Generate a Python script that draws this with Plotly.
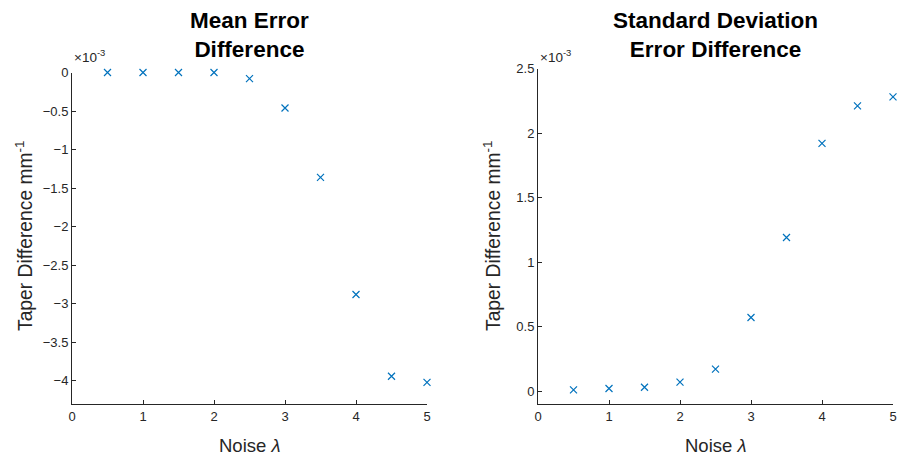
import plotly.graph_objects as go

noise = [0.5, 1.0, 1.5, 2.0, 2.5, 3.0, 3.5, 4.0, 4.5, 5.0]
# values in units of 1e-3 mm^-1
mean_err_diff = [0.0, 0.0, 0.0, 0.0, -0.08, -0.46, -1.36, -2.88, -3.94, -4.02]
std_err_diff = [0.01, 0.02, 0.03, 0.07, 0.17, 0.57, 1.19, 1.92, 2.21, 2.28]

x_ticks = [0, 1, 2, 3, 4, 5]
left_y_ticks = [0, -0.5, -1, -1.5, -2, -2.5, -3, -3.5, -4]
right_y_ticks = [0, 0.5, 1, 1.5, 2, 2.5]

W, H = 898, 459
FONT = "Liberation Sans, Arial, sans-serif"
AX = "#262626"
BLUE = "#0072BD"

def px_x(p):
    return p / W

def px_y(p):
    return 1 - p / H

def fmt(v):
    return ("%g" % v).replace("-", "\u2212")

fig = go.Figure()
mk = dict(symbol="x-thin-open", size=7, color=BLUE, line=dict(width=1.2, color=BLUE))
fig.add_trace(go.Scatter(x=noise, y=mean_err_diff, mode="markers", xaxis="x", yaxis="y",
                         marker=mk, cliponaxis=False, showlegend=False))
fig.add_trace(go.Scatter(x=noise, y=std_err_diff, mode="markers", xaxis="x2", yaxis="y2",
                         marker=mk, cliponaxis=False, showlegend=False))

axis_common = dict(showgrid=False, zeroline=False, showline=True, linecolor=AX, linewidth=1,
                   ticks="inside", ticklen=4, tickcolor=AX, tickwidth=1, automargin=False,
                   tickfont=dict(family=FONT, size=13, color=AX), mirror=False)

fig.update_layout(
    width=W, height=H, margin=dict(l=0, r=0, t=0, b=0, autoexpand=False),
    paper_bgcolor="white", plot_bgcolor="white",
    xaxis=dict(domain=[px_x(72), px_x(427)], range=[0, 5], tickvals=x_ticks,
               ticktext=[fmt(v) for v in x_ticks], anchor="y", **axis_common),
    yaxis=dict(domain=[px_y(404), px_y(72.5)], range=[-4.3, 0], tickvals=left_y_ticks,
               ticktext=[fmt(v) for v in left_y_ticks], anchor="x", **axis_common),
    xaxis2=dict(domain=[px_x(538), px_x(893)], range=[0, 5], tickvals=x_ticks,
                ticktext=[fmt(v) for v in x_ticks], anchor="y2", **axis_common),
    yaxis2=dict(domain=[px_y(404), px_y(68.5)], range=[-0.1, 2.5], tickvals=right_y_ticks,
                ticktext=[fmt(v) for v in right_y_ticks], anchor="x2", **axis_common),
)

ann = []
# titles
ann.append(dict(text="<b>Mean Error<br>Difference</b>", x=px_x(249.5), y=px_y(5.5), xref="paper", yref="paper",
                xanchor="center", yanchor="top", showarrow=False,
                font=dict(family=FONT, size=22.5, color="black")))
ann.append(dict(text="<b>Standard Deviation<br>Error Difference</b>", x=px_x(715.5), y=px_y(5.5), xref="paper", yref="paper",
                xanchor="center", yanchor="top", showarrow=False,
                font=dict(family=FONT, size=22.5, color="black")))
# x titles
for cx in (249.5, 715.5):
    ann.append(dict(text="Noise <i>λ</i>", x=px_x(cx), y=px_y(445), xref="paper", yref="paper",
                    xanchor="center", yanchor="middle", showarrow=False,
                    font=dict(family=FONT, size=18.5, color=AX)))
# y titles
for cx in (24, 492):
    ann.append(dict(text="Taper Difference mm<sup>-1</sup>", x=px_x(cx), y=px_y(236), xref="paper", yref="paper",
                    xanchor="center", yanchor="middle", showarrow=False, textangle=-90,
                    font=dict(family=FONT, size=19.3, color=AX)))
# exponent labels
for lx in (72, 538):
    ann.append(dict(text="×10<sup>-3</sup>", x=px_x(lx), y=px_y(67), xref="paper", yref="paper",
                    xanchor="left", yanchor="bottom", showarrow=False,
                    font=dict(family=FONT, size=13.5, color=AX)))
fig.update_layout(annotations=ann)

fig.write_html("out.html", config={"displayModeBar": False},
               post_script="document.body.style.margin='0';document.body.style.padding='0';document.body.style.overflow='hidden';")
